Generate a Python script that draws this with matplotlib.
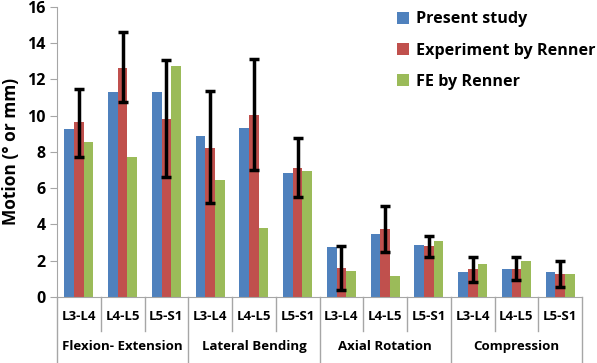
import matplotlib.pyplot as plt
import matplotlib.transforms as mtransforms
import numpy as np

plt.rcParams['font.family'] = ['Open Sans', 'DejaVu Sans']

groups = ["Flexion- Extension", "Lateral Bending", "Axial Rotation", "Compression"]
levels = ["L3-L4", "L4-L5", "L5-S1"]

present = [9.25, 11.3, 11.3, 8.88, 9.31, 6.86, 2.76, 3.45, 2.87, 1.38, 1.51, 1.38]
exp_renner = [9.64, 12.66, 9.84, 8.22, 10.04, 7.1, 1.57, 3.72, 2.78, 1.51, 1.51, 1.24]
exp_low = [7.74, 10.78, 6.63, 5.16, 7.0, 5.53, 0.37, 2.49, 2.21, 0.83, 0.92, 0.52]
exp_high = [11.5, 14.6, 13.07, 11.37, 13.15, 8.79, 2.8, 5.01, 3.36, 2.21, 2.21, 1.96]
fe_renner = [8.55, 7.74, 12.75, 6.45, 3.82, 6.97, 1.42, 1.16, 3.06, 1.79, 1.99, 1.27]

blue = "#4F81BD"
red = "#C0504D"
green = "#9BBB59"
grey = "#A6A6A6"

fig = plt.figure(figsize=(5.97, 3.63), dpi=100)
ax = fig.add_axes([0.0955, 0.1826, 0.8795, 0.798])

x = np.arange(len(present))
w = 0.22
exp = np.array(exp_renner)
yerr = [exp - np.array(exp_low), np.array(exp_high) - exp]

ax.bar(x - w, present, w, color=blue, label="Present study")
ax.bar(x, exp_renner, w, color=red, label="Experiment by Renner")
ax.bar(x + w, fe_renner, w, color=green, label="FE by Renner")
ax.errorbar(x, exp_renner, yerr=yerr, fmt="none", ecolor="black",
            elinewidth=2.5, capsize=3.5, capthick=2.5)

ax.set_xlim(-0.5, len(present) - 0.5)
ax.set_ylim(0, 16)
ax.set_yticks(np.arange(0, 17, 2))
ax.tick_params(axis="y", length=5, color=grey, labelsize=11.5, pad=3)
for lab in ax.get_yticklabels():
    lab.set_fontweight("bold")
ax.set_xticks([])

for s in ["top", "right"]:
    ax.spines[s].set_visible(False)
ax.spines["left"].set_color(grey)
ax.spines["bottom"].set_color(grey)
ax.spines["left"].set_bounds(0, 16)

ax.set_ylabel("Motion (° or mm)", fontsize=12.5, fontweight="bold", labelpad=5)

# two-level category axis
trans = mtransforms.blended_transform_factory(ax.transData, ax.transAxes)
n = len(levels)
for i in range(len(present) + 1):
    lo = -0.245 if i % n == 0 else -0.118
    ax.plot([i - 0.5, i - 0.5], [0, lo], transform=trans, color=grey,
            lw=1, clip_on=False)
for i in range(len(present)):
    ax.text(i, -0.068, levels[i % n], transform=trans, ha="center",
            va="center", fontsize=9.5, fontweight="bold")
for g, name in enumerate(groups):
    ax.text(g * n + 1, -0.172, name, transform=trans, ha="center",
            va="center", fontsize=9.5, fontweight="bold")

ax.legend(loc="upper left", bbox_to_anchor=(0.62, 1.035), frameon=False,
          prop={"size": 11.6, "weight": "bold"}, handlelength=0.75,
          handleheight=0.75, handletextpad=0.45, labelspacing=0.95)

fig.savefig("out.png", dpi=100)
